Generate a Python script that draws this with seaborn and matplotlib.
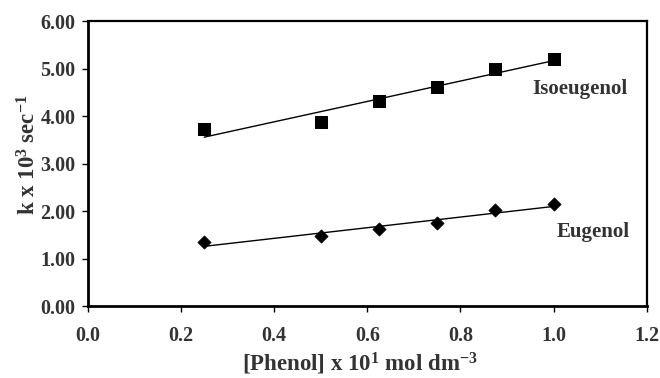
import numpy as np
import pandas as pd
import seaborn as sns
import matplotlib
matplotlib.use("Agg")
import matplotlib.pyplot as plt

# data
phenol = [0.25, 0.5, 0.625, 0.75, 0.875, 1.0]
k_isoeugenol = [3.72, 3.87, 4.32, 4.62, 4.99, 5.20]
k_eugenol = [1.35, 1.47, 1.62, 1.75, 2.02, 2.15]
x_ticks = [0.0, 0.2, 0.4, 0.6, 0.8, 1.0, 1.2]
y_ticks = [0.0, 1.0, 2.0, 3.0, 4.0, 5.0, 6.0]

sns.set_style("ticks")
plt.rcParams['font.family'] = ['Liberation Serif', 'DejaVu Serif']
plt.rcParams['font.weight'] = 'bold'
plt.rcParams['mathtext.fontset'] = 'custom'
plt.rcParams['mathtext.rm'] = 'Liberation Serif:bold'
plt.rcParams['mathtext.default'] = 'rm'

df = pd.DataFrame({'phenol': phenol, 'iso': k_isoeugenol, 'eug': k_eugenol})

fig = plt.figure(figsize=(6.6, 3.78), dpi=100)
ax = fig.add_axes([0.133, 0.190, 0.847, 0.754])

# fitted lines
sns.regplot(data=df, x='phenol', y='iso', ax=ax, scatter=False, ci=None,
            truncate=True, color='black', line_kws={'linewidth': 1.0})
sns.regplot(data=df, x='phenol', y='eug', ax=ax, scatter=False, ci=None,
            truncate=True, color='black', line_kws={'linewidth': 1.0})

# points
sns.scatterplot(data=df, x='phenol', y='iso', ax=ax, marker='s', s=85,
                color='black', edgecolor='black', zorder=3)
sns.scatterplot(data=df, x='phenol', y='eug', ax=ax, marker='D', s=45,
                color='black', edgecolor='black', zorder=3)

ax.text(1.056, 4.57, 'Isoeugenol', ha='center', va='center',
        fontsize=15, fontweight='bold', color='#333333')
ax.text(1.084, 1.56, 'Eugenol', ha='center', va='center',
        fontsize=15, fontweight='bold', color='#333333')

ax.set_xlim(0, 1.2)
ax.set_ylim(0, 6)
ax.set_xticks(x_ticks)
ax.set_xticklabels([f'{v:.1f}' for v in x_ticks])
ax.set_yticks(y_ticks)
ax.set_yticklabels([f'{v:.2f}' for v in y_ticks])
ax.tick_params(axis='both', labelsize=14.5, direction='out', length=4,
               width=1.0, color='black', labelcolor='#333333', pad=5)
ax.tick_params(axis='x', pad=10)

for side in ['left', 'bottom']:
    ax.spines[side].set_linewidth(2.0)
for side in ['top', 'right']:
    ax.spines[side].set_linewidth(1.6)
for sp in ax.spines.values():
    sp.set_color('black')
    sp.set_visible(True)

ax.set_xlabel(r'[Phenol] x 10$^{1}$ mol dm$^{-3}$', fontsize=16.5,
              fontweight='bold', color='#333333')
ax.set_ylabel(r'k x 10$^{3}$ sec$^{-1}$', fontsize=16.5,
              fontweight='bold', color='#333333')
ax.xaxis.set_label_coords(0.487, -0.155)
ax.yaxis.set_label_coords(-0.085, 0.53)

fig.savefig('out.png', dpi=100)
